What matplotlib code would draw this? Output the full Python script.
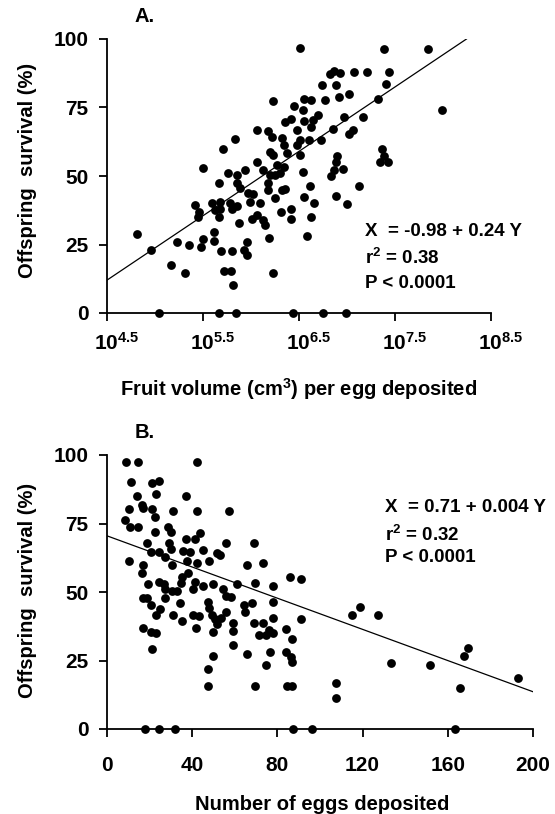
import matplotlib
matplotlib.use("Agg")
import matplotlib.pyplot as plt
import matplotlib.transforms as mtransforms
import numpy as np

plt.rcParams["font.family"] = ["Liberation Sans", "DejaVu Sans"]
plt.rcParams["font.weight"] = "bold"
plt.rcParams["mathtext.fontset"] = "custom"
plt.rcParams["mathtext.rm"] = "Liberation Sans:bold"
plt.rcParams["mathtext.it"] = "Liberation Sans:bold"
plt.rcParams["mathtext.bf"] = "Liberation Sans:bold"
plt.rcParams["mathtext.default"] = "rm"

# panel A: log10 fruit volume per egg vs offspring survival (%)
vol_log = [6.51, 6.23, 6.45, 6.55, 6.63, 6.54, 6.35, 6.42, 6.55, 6.65, 6.70, 6.62,
           6.48, 6.06, 6.18, 6.22, 6.32, 6.51, 6.60, 5.83, 5.71, 6.34, 6.48, 6.20,
           6.23, 6.37, 6.51, 6.06, 6.27, 6.34, 5.50, 5.76, 5.85, 5.94, 6.13, 6.20,
           6.30, 6.54,
           7.39, 7.84, 6.86, 6.82, 6.93, 7.07, 7.21, 7.44, 6.74, 6.89, 7.41, 7.02,
           6.92, 6.77, 7.32, 7.99, 6.97, 7.17, 6.85, 7.02, 7.06, 6.73, 7.36, 7.34,
           7.43, 7.39, 6.90, 6.89, 6.96, 6.86, 6.83,
           6.25, 5.67, 5.85, 5.89, 5.97, 6.02, 6.18, 6.18, 6.25, 6.32, 6.35, 6.61,
           6.55, 6.66, 6.63, 6.58, 5.42, 5.46, 5.45, 5.59, 5.63, 5.68, 5.68, 5.67,
           5.78, 5.80, 5.85, 5.87, 5.99, 6.01, 6.06, 6.09, 6.13, 6.15, 6.31, 6.42,
           6.42, 6.19, 5.61, 5.61, 5.50, 5.48, 5.35, 5.23, 4.81, 4.96, 5.17, 5.31,
           5.69, 5.80, 5.93, 5.96, 5.96, 5.72, 5.79, 5.81, 6.23,
           5.04, 5.67, 5.84, 6.44, 6.75, 6.99,
           7.13, 6.89, 7.00]
surv_a = [96.6, 77.5, 75.7, 78.1, 77.7, 74.1, 69.8, 70.7, 70.2, 70.4, 72.3, 67.8,
          66.8, 66.8, 66.5, 64.1, 63.8, 63.1, 63.1, 63.5, 59.9, 61.3, 61.3, 58.9,
          57.7, 58.3, 57.7, 55.2, 54.0, 53.4, 52.8, 51.0, 50.4, 52.2, 52.2, 50.4,
          51.0, 51.6,
          96.2, 96.2, 88.4, 87.2, 87.5, 87.8, 87.8, 87.8, 83.2, 83.2, 83.6, 79.9,
          78.7, 77.7, 78.1, 74.1, 71.4, 71.4, 67.2, 65.3, 66.8, 63.1, 59.9, 55.2,
          55.2, 57.3, 57.4, 55.2, 52.4, 52.2, 50.0,
          50.4, 47.3, 47.3, 45.5, 43.7, 43.4, 47.3, 44.9, 41.9, 44.9, 45.1, 46.4,
          42.2, 40.3, 35.1, 28.1, 39.4, 37.0, 35.1, 40.0, 37.6, 40.6, 37.8, 34.9,
          40.0, 37.8, 39.1, 33.0, 40.6, 34.2, 35.8, 40.0, 33.9, 32.1, 37.0, 37.8,
          34.2, 27.3, 29.7, 26.4, 26.9, 24.0, 24.8, 26.0, 28.7, 23.0, 17.5, 14.5,
          22.6, 22.6, 23.0, 21.2, 26.0, 15.4, 15.4, 10.2, 14.7,
          0, 0, 0, 0, 0, 0,
          46.5, 42.7, 39.8]

# panel B: number of eggs deposited vs offspring survival (%)
eggs = [8.9, 14.7, 42.1, 11.1, 21.0, 24.6, 14.2, 23.0, 37.1, 10.5, 16.3, 17.0,
        21.0, 31.1, 42.1, 57.4, 22.5, 8.5, 10.8, 14.7, 22.5, 28.8, 29.9, 43.7,
        37.1, 41.3, 18.9, 29.2, 55.9, 69.0, 20.5, 24.6, 29.9, 35.8, 39.0, 45.2,
        51.8, 27.2, 10.5, 16.8, 30.4, 37.4, 42.1, 48.0, 65.6, 73.4, 53.1,
        16.3, 19.4, 24.6, 26.8, 27.2, 30.4, 33.0, 34.6, 35.1, 38.2, 41.3, 40.5,
        45.2, 49.6, 54.6, 55.9, 58.1, 61.2, 69.5, 78.1, 85.9, 90.9, 16.8, 18.6,
        20.5, 24.9, 27.2, 34.3, 23.0, 30.8, 40.5, 43.3, 35.1, 41.8, 47.6, 48.0,
        49.2, 50.7, 51.5, 53.4, 55.9, 49.6, 59.3, 59.3, 59.3, 64.3, 64.8, 67.9,
        78.1, 69.0, 73.4, 71.5, 74.6, 76.2, 78.1, 78.1, 84.0, 86.7, 90.9, 21.0,
        16.8, 20.5, 23.0, 49.6, 47.6, 47.6, 65.6, 76.5, 74.6, 69.5, 84.0, 86.2,
        86.7, 84.4, 86.7,
        17.9, 24.4, 31.9, 87.3, 96.2, 163.6,
        114.9, 118.8, 127.4, 133.3, 151.6, 167.6, 169.6, 165.7, 193.1, 107.5, 107.5]
surv_b = [97.6, 97.6, 97.6, 90.3, 89.7, 90.5, 85.0, 85.7, 85.0, 80.2, 81.8, 80.5,
          80.2, 79.6, 79.6, 79.6, 77.5, 76.3, 73.6, 73.6, 72.0, 73.8, 72.0, 71.4,
          69.2, 69.2, 68.0, 68.0, 68.0, 68.0, 64.7, 64.7, 65.6, 65.1, 64.7, 65.3,
          64.1, 62.9, 61.4, 59.9, 59.9, 61.4, 60.7, 61.4, 59.9, 60.5, 63.5,
          57.0, 52.9, 53.8, 52.9, 51.0, 50.5, 50.5, 53.2, 55.4, 56.8, 53.8, 51.0,
          52.2, 52.9, 51.0, 48.5, 48.3, 52.9, 53.4, 52.2, 55.4, 54.6, 47.7, 47.7,
          45.3, 43.7, 47.7, 46.1, 41.6, 41.6, 41.6, 41.2, 39.4, 37.0, 46.5, 44.3,
          41.6, 40.0, 38.3, 40.4, 42.8, 35.5, 38.8, 35.9, 30.7, 45.3, 42.8, 46.1,
          46.5, 38.8, 38.6, 34.3, 34.3, 36.1, 34.9, 40.4, 36.4, 32.7, 40.0, 29.1,
          36.8, 35.5, 34.9, 26.8, 21.8, 15.7, 27.4, 28.2, 23.4, 15.7, 28.2, 26.2,
          24.6, 15.7, 15.7,
          0, 0, 0, 0, 0, 0,
          41.6, 44.4, 41.6, 24.0, 23.4, 26.8, 29.7, 15.1, 18.5, 16.7, 11.2]

# fitted lines as drawn (survival = a + b * x)
fit_a = (-93.75, 23.5)
fit_b = (70.5, -0.2845)

xt_a = [4.5, 5.5, 6.5, 7.5, 8.5]
xt_b = [0, 40, 80, 120, 160, 200]
yt = [0, 25, 50, 75, 100]

W, H = 555, 814
fig = plt.figure(figsize=(W / 100, H / 100), dpi=100)


def fx(px):
    return px / W


def fy(py):
    return 1 - py / H


ax1 = fig.add_axes([fx(107), fy(313), 384 / W, 274 / H])
ax2 = fig.add_axes([fx(107), fy(729), 426 / W, 274 / H])

for ax in (ax1, ax2):
    for s in ("top", "right"):
        ax.spines[s].set_visible(False)
    for s in ("left", "bottom"):
        ax.spines[s].set_linewidth(1.3)
    ax.set_ylim(0, 100)
    ax.set_yticks(yt)
    ax.tick_params(direction="out", length=5.5, width=1.3, labelsize=15)
    ax.tick_params(axis="y", pad=8)

# panel A
ax1.scatter(vol_log, surv_a, s=40, c="black", linewidths=0, clip_on=False, zorder=3)
xa = np.array([4.5, (100 - fit_a[0]) / fit_a[1]])
ax1.plot(xa, fit_a[0] + fit_a[1] * xa, color="black", lw=0.9)
ax1.set_xlim(4.5, 8.5)
ax1.set_xticks(xt_a)
ax1.set_xticklabels(["$10^{%s}$" % v for v in xt_a])
ax1.tick_params(axis="x", pad=8)
shift = mtransforms.ScaledTranslation(10 / 100, 0, fig.dpi_scale_trans)
for lab in ax1.get_xticklabels():
    lab.set_transform(lab.get_transform() + shift)

# panel B
ax2.scatter(eggs, surv_b, s=40, c="black", linewidths=0, clip_on=False, zorder=3)
xb = np.array([0, 200])
ax2.plot(xb, fit_b[0] + fit_b[1] * xb, color="black", lw=0.9)
ax2.set_xlim(0, 200)
ax2.set_xticks(xt_b)
ax2.tick_params(axis="x", pad=14)

# labels
fs = 14.5
fig.text(fx(28), fy(170), "Offspring  survival (%)", rotation=90, ha="center", va="center", fontsize=fs)
fig.text(fx(28), fy(590), "Offspring  survival (%)", rotation=90, ha="center", va="center", fontsize=fs)
fig.text(fx(299), fy(396), "Fruit volume (cm$^3$) per egg deposited", ha="center", va="baseline", fontsize=fs)
fig.text(fx(322), fy(810), "Number of eggs deposited", ha="center", va="baseline", fontsize=fs)
fig.text(fx(145), fy(17), "A.", ha="center", va="center", fontsize=fs)
fig.text(fx(145), fy(433), "B.", ha="center", va="center", fontsize=fs)

fs2 = 13.5
fig.text(fx(365), fy(231), "X  = -0.98 + 0.24 Y", ha="left", va="center", fontsize=fs2)
fig.text(fx(365), fy(258), "r$^2$ = 0.38", ha="left", va="center", fontsize=fs2)
fig.text(fx(365), fy(283), "P < 0.0001", ha="left", va="center", fontsize=fs2)
fig.text(fx(385), fy(508), "X  = 0.71 + 0.004 Y", ha="left", va="center", fontsize=fs2)
fig.text(fx(385), fy(535), "r$^2$ = 0.32", ha="left", va="center", fontsize=fs2)
fig.text(fx(385), fy(558), "P < 0.0001", ha="left", va="center", fontsize=fs2)

fig.savefig("out.png", dpi=100)
